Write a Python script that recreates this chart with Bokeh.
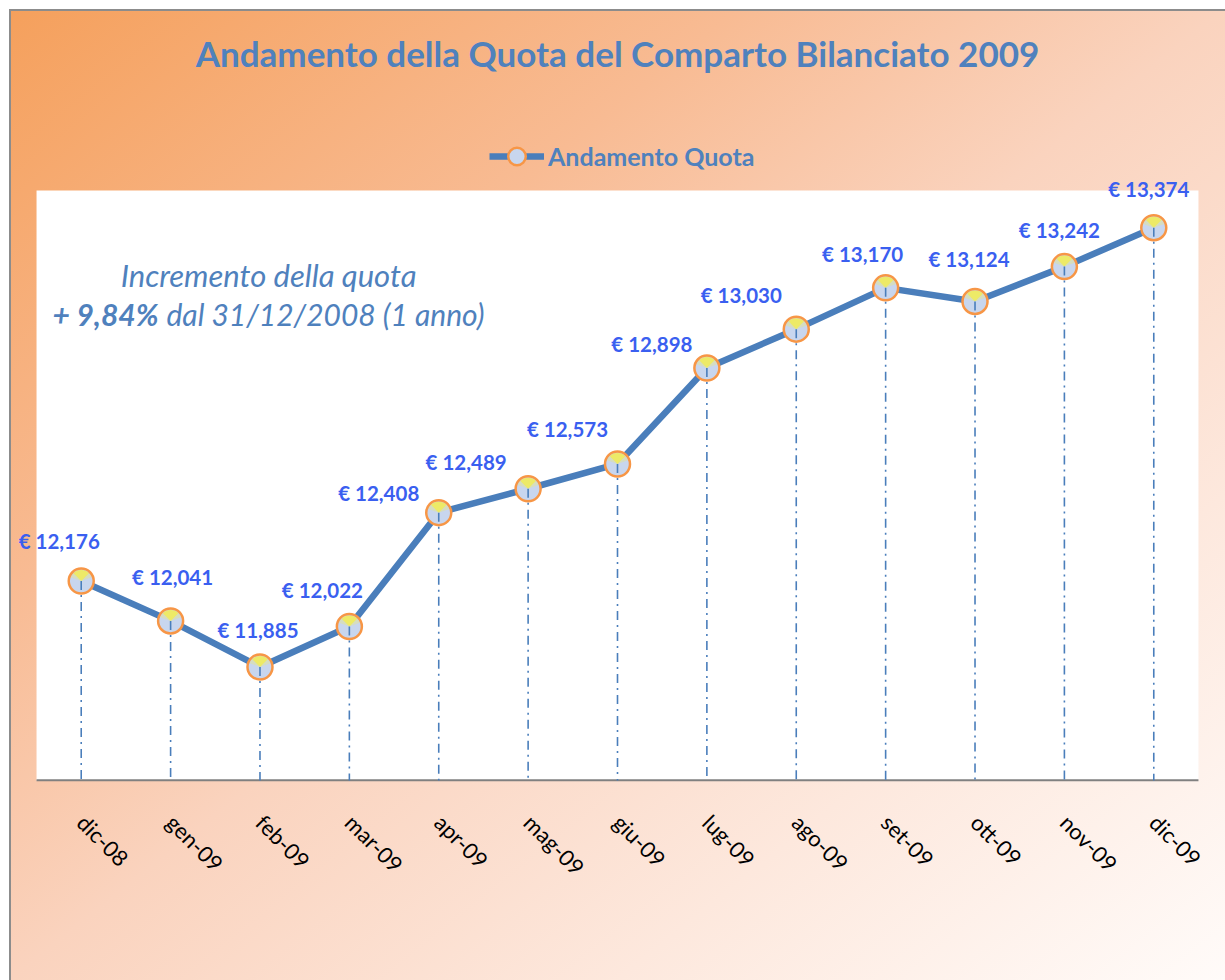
import math
from bokeh.plotting import figure
from bokeh.models import (ColumnDataSource, LabelSet, Label, Legend, LegendItem,
                          FactorRange, BoxAnnotation)
from bokeh.core.properties import value
from bokeh.embed import file_html
from bokeh.resources import INLINE

# ---- data ----
months = ["dic-08", "gen-09", "feb-09", "mar-09", "apr-09", "mag-09", "giu-09",
          "lug-09", "ago-09", "set-09", "ott-09", "nov-09", "dic-09"]
quota = [12.176, 12.041, 11.885, 12.022, 12.408, 12.489, 12.573,
         12.898, 13.030, 13.170, 13.124, 13.242, 13.374]
title_text = "Andamento della Quota del Comparto Bilanciato 2009"
series_name = "Andamento Quota"
note_line1 = "Incremento della quota"
note_pct = "+ 9,84%"
note_rest = "dal 31/12/2008 (1 anno)"

# label offsets (screen px, up positive) - styling only
label_dx = [-22, 2, -2, -27, -60, -62, -50, -55, -55, -23, -6, -5, -5]
label_dy = [40, 44, 37, 37, 20, 27, 35, 24, 34, 34, 42, 37, 39]

y_min, y_max = 11.5, 13.5          # white plot area value span
PX_PER_UNIT = 295.0                 # vertical scale of the plot area
FRAME_H = 772                       # frame spans page y 9..781
view_start = y_min - 1 / PX_PER_UNIT
view_end = view_start + FRAME_H / PX_PER_UNIT

labels = ["€ " + f"{v:.3f}".replace(".", ",") for v in quota]
src = ColumnDataSource(dict(m=months, v=quota, lab=labels, base=[y_min] * len(quota),
                            dx=label_dx, dy=label_dy))

BLUE = "#4a7ebb"
TITLE_BLUE = "#4f81bd"
LABEL_BLUE = "#3a5ff0"
ORANGE = "#f79646"
FONT = "Lato"

xr = FactorRange(factors=months, range_padding=0.3025, range_padding_units="absolute")
p = figure(x_range=xr, y_range=(view_start, view_end), width=1216, height=971,
           output_backend="svg", toolbar_location=None, title=None,
           min_border_left=0, min_border_right=0, min_border_top=0,
           min_border_bottom=971 - FRAME_H)
p.border_fill_alpha = 0
p.background_fill_alpha = 0
p.outline_line_color = None
p.grid.visible = False
p.yaxis.visible = False
p.styles = {
    "margin-left": "9px",
    "margin-top": "9px",
    "background": "linear-gradient(to bottom right, #f5a05c 0%, #f8bb93 30%, #fad3be 50%, #fde8dd 75%, #fffbf9 100%)",
    "box-shadow": "inset 2px 2px 0 #8c8c8c",
}

# white plot area and its bottom axis line
p.add_layout(BoxAnnotation(left=0, right=len(months), bottom=y_min, top=y_max,
                           fill_color="white", fill_alpha=1, line_color=None, level="underlay"))
p.add_layout(BoxAnnotation(left=0, right=len(months), bottom=view_start, top=y_min + 1.2 / PX_PER_UNIT,
                           fill_color="#808080", fill_alpha=1, line_color=None, level="underlay"))

ax = p.xaxis[0]
ax.axis_line_color = None
ax.major_tick_line_color = None
ax.minor_tick_line_color = None
ax.major_label_orientation = -math.pi / 4
ax.major_label_text_font = FONT
ax.major_label_text_font_size = "22px"
ax.major_label_text_color = "black"
ax.major_label_standoff = 31

# series line
line_r = p.line("m", "v", source=src, line_color=BLUE, line_width=6.5)

# markers
marker_r = p.scatter("m", "v", source=src, size=24, fill_color="#c8d6ee", line_color=None)
p.wedge("m", "v", source=src, radius=11, radius_units="screen",
        start_angle=math.radians(20), end_angle=math.radians(160),
        fill_color="#f0ec6a", fill_alpha=0.35, line_color=None)
p.wedge("m", "v", source=src, radius=11, radius_units="screen",
        start_angle=math.radians(45), end_angle=math.radians(135),
        fill_color="#f2ee50", fill_alpha=0.8, line_color=None)
outline_r = p.scatter("m", "v", source=src, size=25, fill_color=None, line_color=ORANGE, line_width=2.5)

# drop lines
p.segment(x0="m", y0="v", x1="m", y1="base", source=src, line_color=BLUE,
          line_width=1.6, line_dash="9 5 2 5")

# data labels
p.add_layout(LabelSet(x="m", y="v", text="lab", source=src, x_offset="dx", y_offset="dy",
                      text_align="center", text_baseline="middle", text_font=value(FONT),
                      text_font_style="bold", text_font_size="20.5px", text_color=LABEL_BLUE))

# title
p.add_layout(Label(x=6.5, y=13.967, text=title_text, text_align="center",
                   text_baseline="middle", text_font=FONT, text_font_style="bold",
                   text_font_size="35px", text_color=TITLE_BLUE))

# annotation text
p.add_layout(Label(x=2.596, y=13.212, text=note_line1, text_align="center",
                   text_baseline="middle", text_font=FONT, text_font_style="italic",
                   text_font_size="31px", text_color=TITLE_BLUE))
p.add_layout(Label(x=1.365, y=13.08, text=note_pct, text_align="right",
                   text_baseline="middle", text_font=FONT, text_font_style="bold italic",
                   text_font_size="30px", text_color=TITLE_BLUE))
p.add_layout(Label(x=1.454, y=13.08, text=note_rest, text_align="left",
                   text_baseline="middle", text_font=FONT, text_font_style="italic",
                   text_font_size="30px", text_color=TITLE_BLUE))

# legend (inside the frame, above the white area)
legend = Legend(items=[LegendItem(label=series_name, renderers=[line_r, marker_r, outline_r])],
                location=(480, 603), orientation="horizontal",
                border_line_color=None, background_fill_alpha=0,
                label_text_font=FONT, label_text_font_style="bold", label_text_font_size="25px",
                label_text_color=TITLE_BLUE, glyph_width=55, glyph_height=44,
                label_standoff=4, margin=0, padding=4)
p.add_layout(legend, "center")

open("out.html", "w").write(file_html(p, INLINE))
